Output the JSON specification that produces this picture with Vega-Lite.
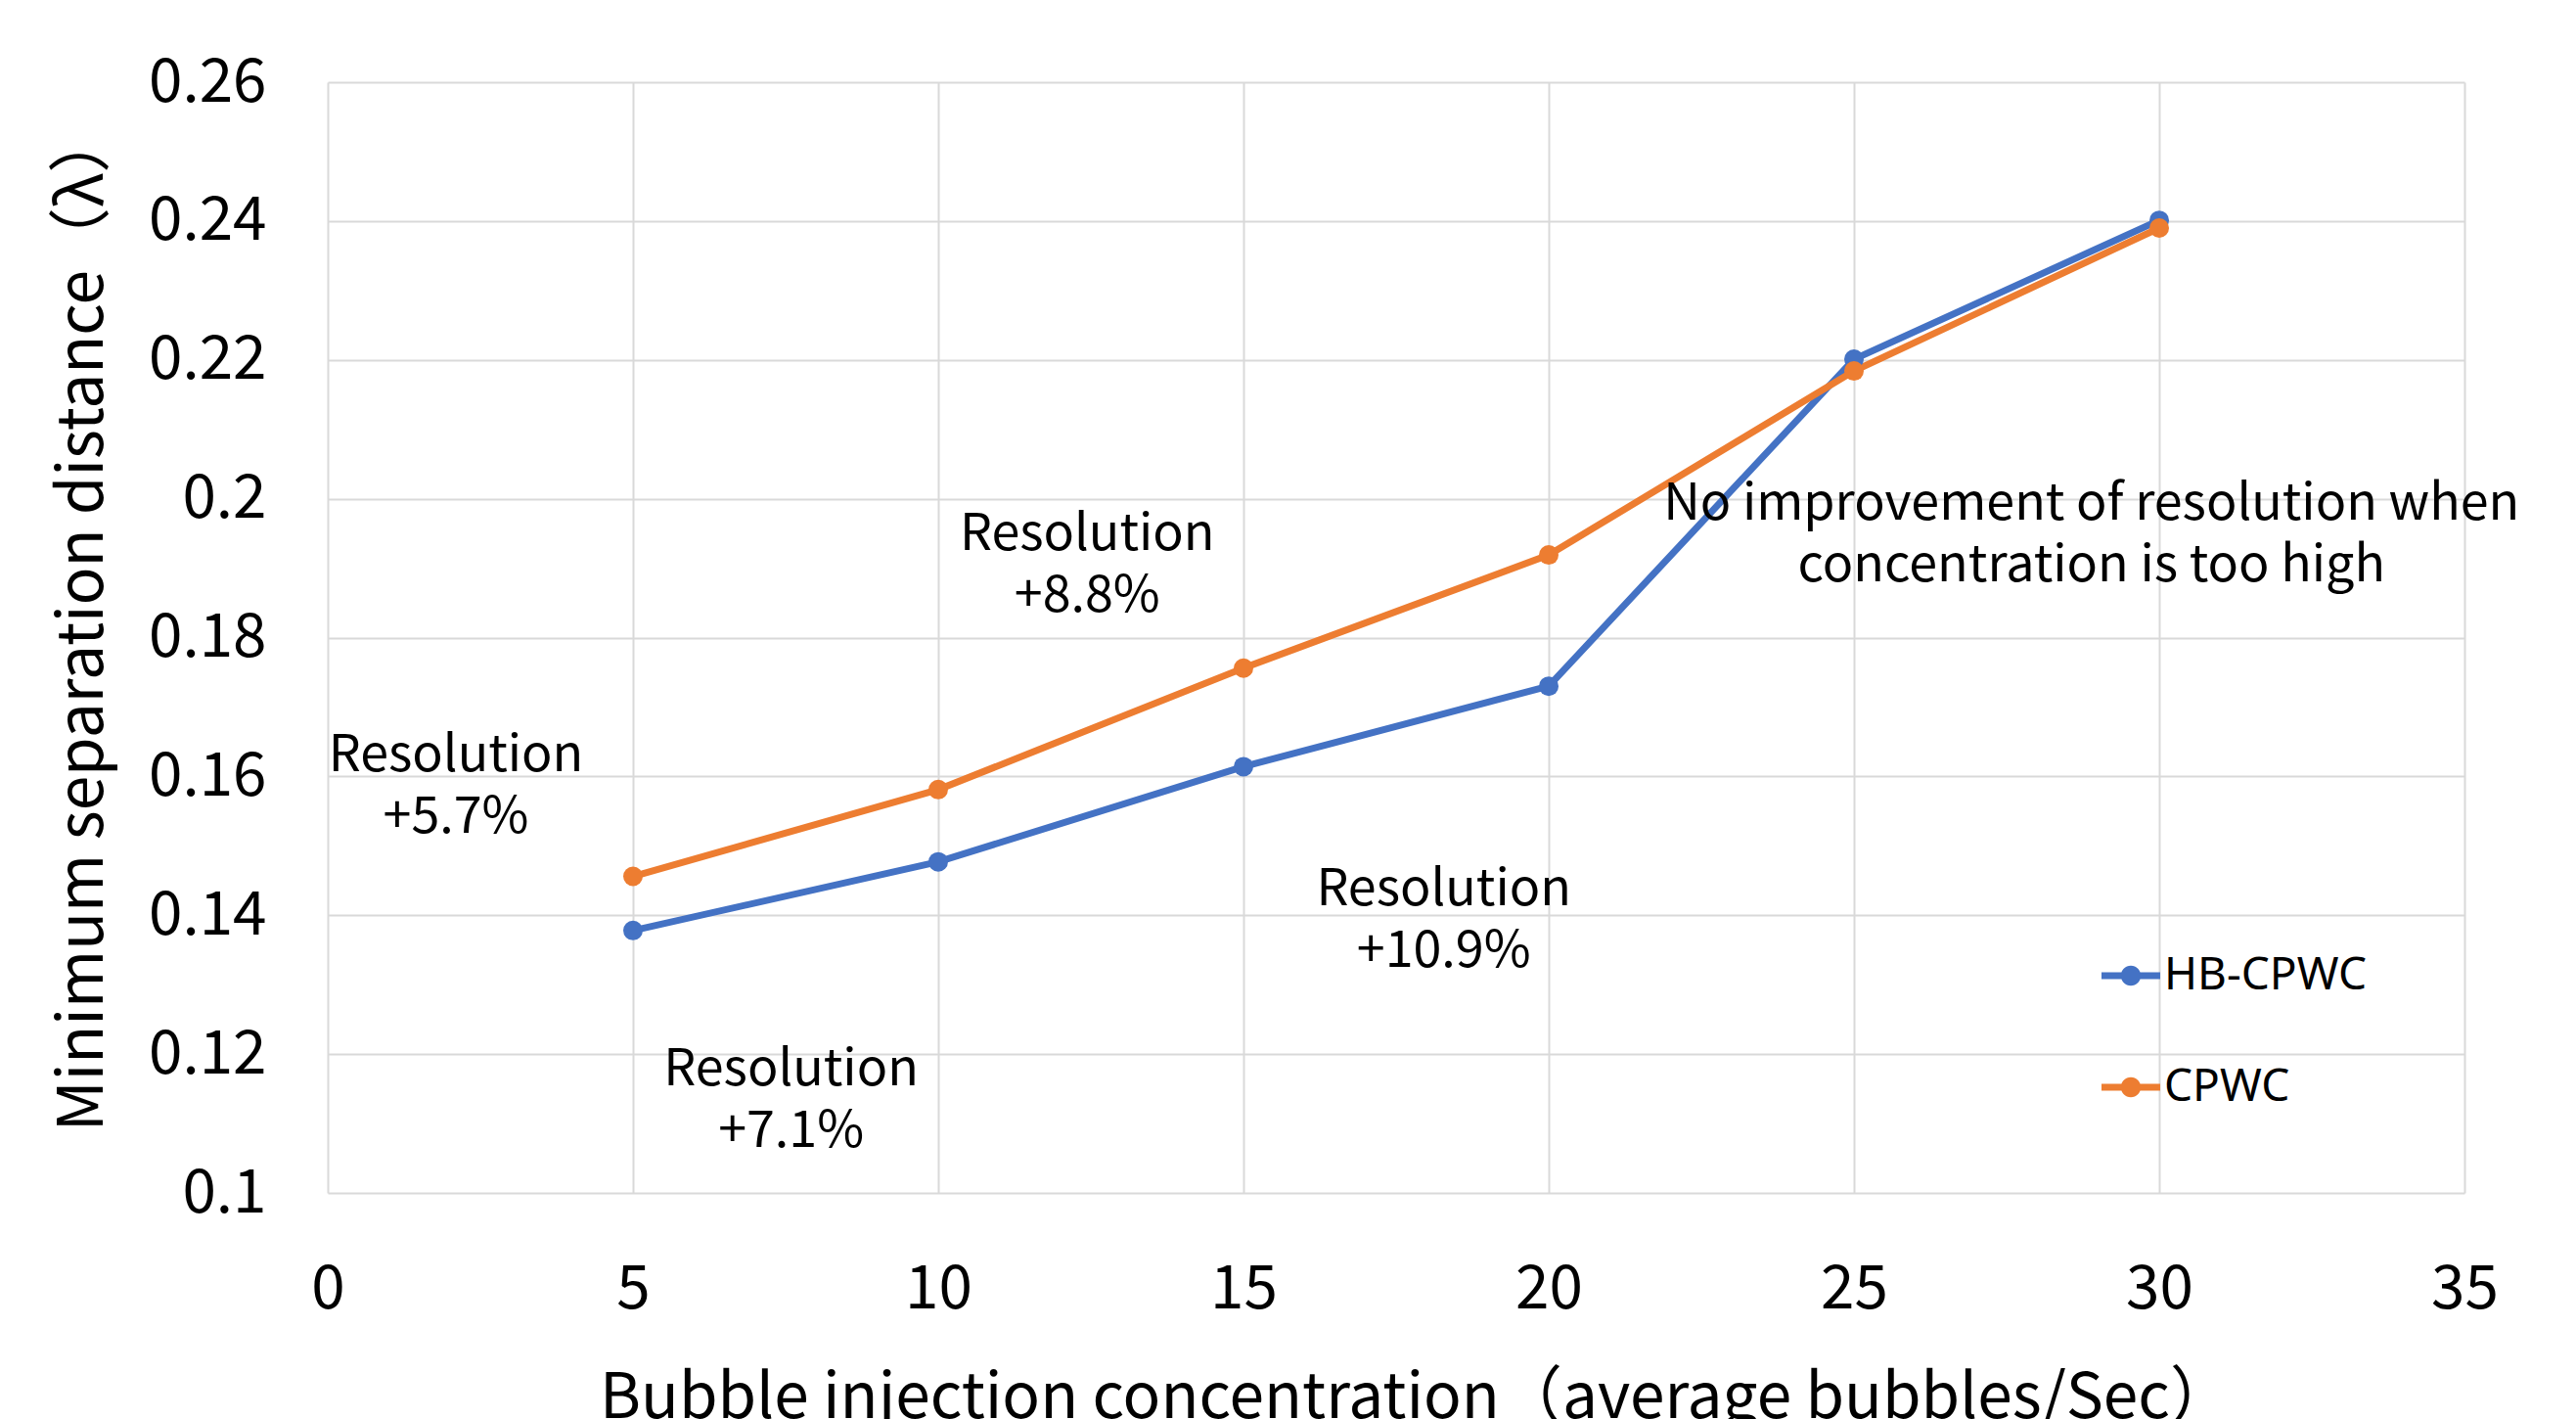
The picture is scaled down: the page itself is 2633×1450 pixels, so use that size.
{
  "$schema": "https://vega.github.io/schema/vega-lite/v6.json",
  "width": 2184,
  "height": 1135,
  "autosize": {"type": "none"},
  "padding": {"left": 335, "top": 84, "right": 114, "bottom": 231},
  "background": "white",
  "config": {
    "view": {"stroke": null},
    "font": "Noto Sans CJK JP",
    "axis": {
      "grid": true,
      "gridColor": "#D9D9D9",
      "gridWidth": 2,
      "domain": false,
      "ticks": false,
      "labelFont": "Noto Sans CJK JP",
      "labelFontSize": 62,
      "labelColor": "#000000",
      "labelFlush": false,
      "labelOverlap": false,
      "titleFont": "Noto Sans CJK JP",
      "titleFontSize": 64,
      "titleFontWeight": "normal",
      "titleColor": "#000000"
    }
  },
  "datasets": {
    "series": [
      {"conc": 5, "value": 0.1378, "series": "HB-CPWC"},
      {"conc": 10, "value": 0.1477, "series": "HB-CPWC"},
      {"conc": 15, "value": 0.1614, "series": "HB-CPWC"},
      {"conc": 20, "value": 0.1730, "series": "HB-CPWC"},
      {"conc": 25, "value": 0.2201, "series": "HB-CPWC"},
      {"conc": 30, "value": 0.2401, "series": "HB-CPWC"},
      {"conc": 5, "value": 0.1456, "series": "CPWC"},
      {"conc": 10, "value": 0.1581, "series": "CPWC"},
      {"conc": 15, "value": 0.1756, "series": "CPWC"},
      {"conc": 20, "value": 0.1919, "series": "CPWC"},
      {"conc": 25, "value": 0.2184, "series": "CPWC"},
      {"conc": 30, "value": 0.2390, "series": "CPWC"}
    ],
    "notes": [
      {"conc": 2.1, "value": 0.1585, "label": "Resolution\n+5.7%"},
      {"conc": 12.44, "value": 0.1904, "label": "Resolution\n+8.8%"},
      {"conc": 7.59, "value": 0.1133, "label": "Resolution\n+7.1%"},
      {"conc": 18.28, "value": 0.1392, "label": "Resolution\n+10.9%"},
      {"conc": 28.89, "value": 0.1948, "label": "No improvement of resolution when\nconcentration is too high"}
    ]
  },
  "layer": [
    {
      "data": {"name": "series"},
      "mark": {"type": "line", "strokeWidth": 7, "point": {"filled": true, "size": 400}},
      "encoding": {
        "x": {
          "field": "conc",
          "type": "quantitative",
          "scale": {"domain": [0, 35], "nice": false},
          "axis": {
            "values": [0, 5, 10, 15, 20, 25, 30, 35],
            "format": "d",
            "labelPadding": 68,
            "title": "Bubble injection concentration（average bubbles/Sec）",
            "titleX": 1112,
            "titleY": 229,
            "titleBaseline": "alphabetic"
          }
        },
        "y": {
          "field": "value",
          "type": "quantitative",
          "scale": {"domain": [0.1, 0.26], "nice": false, "zero": false},
          "axis": {
            "values": [0.1, 0.12, 0.14, 0.16, 0.18, 0.2, 0.22, 0.24, 0.26],
            "format": ".2~f",
            "labelPadding": 63,
            "title": "Minimum separation distance（λ）",
            "titleX": -250,
            "titleY": 550,
            "titleAngle": -90,
            "titleBaseline": "middle"
          }
        },
        "color": {
          "field": "series",
          "type": "nominal",
          "sort": ["HB-CPWC", "CPWC"],
          "scale": {"domain": ["HB-CPWC", "CPWC"], "range": ["#4472C4", "#ED7D31"]},
          "legend": {
            "title": null,
            "orient": "none",
            "legendX": 1813,
            "legendY": 883,
            "direction": "vertical",
            "symbolType": "M-1,-0.12L1,-0.12L1,0.12L-1,0.12Z M0.34,0A0.34,0.34,0,1,1,-0.34,0A0.34,0.34,0,1,1,0.34,0Z",
            "symbolSize": 3600,
            "symbolStrokeWidth": 0,
            "labelFont": "Noto Sans",
            "labelFontSize": 46,
            "labelColor": "#000000",
            "labelLimit": 0,
            "labelOffset": 4,
            "rowPadding": 61,
            "encode": {
              "symbols": {
                "update": {
                  "fill": {"scale": "color", "field": "value"},
                  "stroke": {"value": "transparent"},
                  "opacity": {"value": 1}
                }
              }
            }
          }
        }
      }
    },
    {
      "data": {"name": "notes"},
      "mark": {
        "type": "text",
        "font": "Noto Sans CJK JP",
        "fontSize": 52,
        "lineHeight": 63,
        "lineBreak": "\n",
        "align": "center",
        "baseline": "middle",
        "dy": -32,
        "color": "#000000"
      },
      "encoding": {
        "x": {"field": "conc", "type": "quantitative"},
        "y": {"field": "value", "type": "quantitative"},
        "text": {"field": "label", "type": "nominal"}
      }
    }
  ]
}
